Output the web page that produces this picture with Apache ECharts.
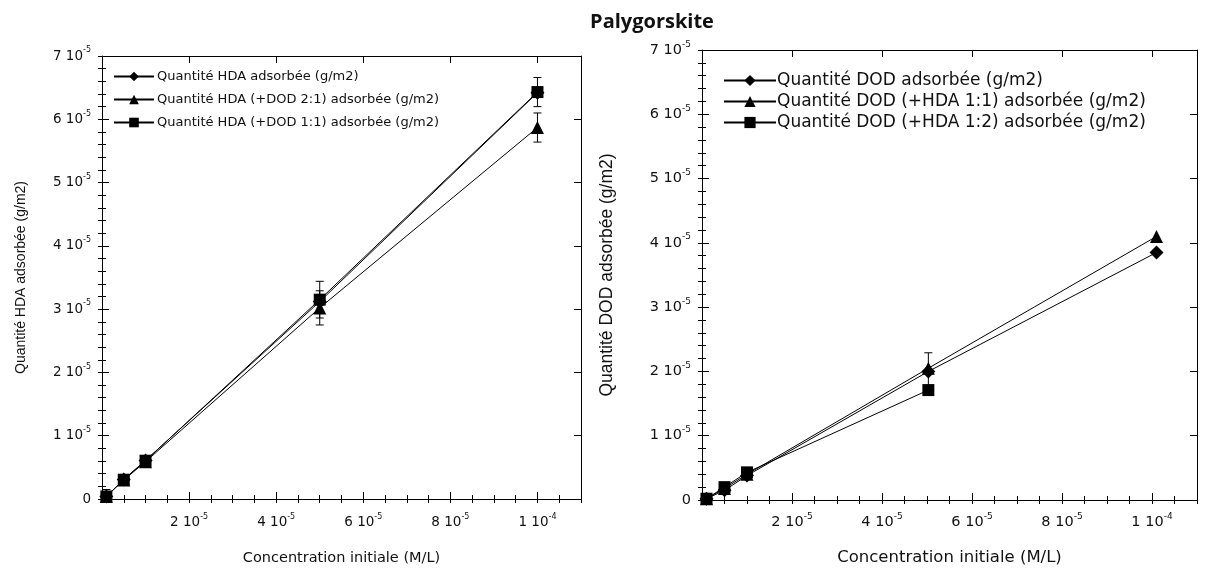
<!DOCTYPE html>
<html><head><meta charset="utf-8">
<script src="https://cdn.jsdelivr.net/npm/echarts@6/dist/echarts.min.js"></script>
<style>html,body{margin:0;padding:0;background:#fff}#c{width:1208px;height:572px}</style>
</head><body><div id="c"></div>
<script>
// ---------- data ----------
const concentrations = [1e-6, 5e-6, 1e-5, 5e-5, 1e-4];

const leftNames = ['Quantité HDA adsorbée (g/m2)', 'Quantité HDA (+DOD 2:1) adsorbée (g/m2)', 'Quantité HDA (+DOD 1:1) adsorbée (g/m2)'];
const hdaAlone   = [4e-7, 3.1e-6, 6.1e-6, 3.12e-5, 6.42e-5];
const hdaDod21   = [4e-7, 3.0e-6, 5.9e-6, 3.02e-5, 5.87e-5];
const hdaDod11   = [4e-7, 3.05e-6, 6.05e-6, 3.15e-5, 6.43e-5];
const hdaDod21Err = [0, 0, 0, 2.7e-6, 2.3e-6];
const hdaDod11Err = [1.1e-6, 0, 0, 2.9e-6, 2.3e-6];

const rightNames = ['Quantité DOD adsorbée (g/m2)', 'Quantité DOD (+HDA 1:1) adsorbée (g/m2)', 'Quantité DOD (+HDA 1:2) adsorbée (g/m2)'];
const dodConcentrations = [1e-6, 5e-6, 1e-5, 5.03e-5, 1.01e-4];
const dodAlone   = [2e-7, 1.5e-6, 3.8e-6, 2.0e-5, 3.85e-5];
const dodHda11   = [2e-7, 1.8e-6, 4.0e-6, 2.05e-5, 4.10e-5];
const dodHda12   = [2e-7, 2.0e-6, 4.3e-6, 1.71e-5, null];
const dodAloneErr = [0, 0, 0, 2.9e-6, 0];

const xTickMantissas = ['', '2', '4', '6', '8', '1'];
const xTickExponents = ['', '-5', '-5', '-5', '-5', '-4'];
const yTickMantissas = ['0', '1', '2', '3', '4', '5', '6', '7'];
const yTickExponent = '-5';

const xTitle = 'Concentration initiale (M/L)';
const leftYTitle = 'Quantité HDA adsorbée (g/m2)';
const rightYTitle = 'Quantité DOD adsorbée (g/m2)';
const chartTitle = 'Palygorskite';

// ---------- helpers ----------
const HFONT = 'DejaVu Sans, sans-serif';
const VFONT = '"Liberation Sans", Arial, sans-serif';
const INK = '#111';
function xFmt(v) {
  if (v > 1.05e-4 || v <= 0) return '';
  const i = Math.round(v / 2e-5);
  return '{m|' + xTickMantissas[i] + ' 10}{e|' + xTickExponents[i] + '}';
}
function yFmt(v) {
  const i = Math.round(v / 1e-5);
  if (i === 0) return '{m|0}';
  return '{m|' + yTickMantissas[i] + ' 10}{e|' + yTickExponent + '}';
}
function rich(fs) {
  return { m: { fontSize: fs, fontFamily: HFONT, color: INK, lineHeight: fs + 6 },
           e: { fontSize: Math.round(fs * 0.62), fontFamily: HFONT, color: INK, verticalAlign: 'top' } };
}
const noSplit = { show: false };
const XMIN = 0, XMAX = 1.1e-4, YMIN = 0, YMAX = 7e-5;

function majorX(g, pos, fs, nameFs, nameGap, margin) {
  const a = { gridIndex: g, type: 'value', min: XMIN, max: XMAX, interval: 2e-5, position: pos,
    axisLine: { show: true, onZero: false, lineStyle: { color: '#000', width: 1 } },
    axisTick: { inside: true, length: 7, lineStyle: { color: '#000' } },
    axisLabel: { show: false }, splitLine: noSplit };
  if (pos === 'bottom') {
    a.axisLabel = { formatter: xFmt, rich: rich(fs), margin: margin };
    a.name = xTitle; a.nameLocation = 'middle'; a.nameGap = nameGap;
    a.nameTextStyle = { fontSize: nameFs, fontFamily: HFONT, color: INK };
  }
  return a;
}
function minorX(g, pos) {
  return { gridIndex: g, type: 'value', min: XMIN, max: XMAX, interval: 5e-6, position: pos,
    axisLine: { show: false }, axisTick: { inside: true, length: 4, lineStyle: { color: '#000' } },
    axisLabel: { show: false }, splitLine: noSplit };
}
function majorY(g, pos, fs, name, nameFs, nameGap) {
  const a = { gridIndex: g, type: 'value', min: YMIN, max: YMAX, interval: 1e-5, position: pos,
    axisLine: { show: true, onZero: false, lineStyle: { color: '#000', width: 1 } },
    axisTick: { inside: true, length: 7, lineStyle: { color: '#000' } },
    axisLabel: { show: false }, splitLine: noSplit };
  if (pos === 'left') {
    a.axisLabel = { formatter: yFmt, rich: rich(fs), margin: 11 };
    a.name = name; a.nameLocation = 'middle'; a.nameGap = nameGap; a.nameRotate = 90;
    a.nameTextStyle = { fontSize: nameFs, fontFamily: VFONT, color: INK };
  }
  return a;
}
function minorY(g, pos) {
  return { gridIndex: g, type: 'value', min: YMIN, max: YMAX, interval: 2e-6, position: pos,
    axisLine: { show: false }, axisTick: { inside: true, length: 4, lineStyle: { color: '#000' } },
    axisLabel: { show: false }, splitLine: noSplit };
}
function lineSeries(name, xs, vals, symbol, size, axisIdx) {
  return { type: 'line', name: name, xAxisIndex: axisIdx, yAxisIndex: axisIdx,
    data: xs.map((c, i) => [c, vals[i]]).filter(d => d[1] !== null),
    symbol: symbol, symbolSize: size, showSymbol: true,
    lineStyle: { color: '#000', width: 1 }, itemStyle: { color: '#000' },
    z: 3, animation: false };
}
function errSeries(xs, vals, errs, axisIdx) {
  return { type: 'custom', xAxisIndex: axisIdx, yAxisIndex: axisIdx, z: 2, animation: false,
    data: xs.map((c, i) => [c, vals[i], errs[i]]).filter(d => d[2] > 0),
    renderItem: function (params, api) {
      const x = api.value(0), y = api.value(1), e = api.value(2);
      const hi = api.coord([x, y + e]), lo = api.coord([x, Math.max(0, y - e)]);
      const w = 4;
      const st = { stroke: '#000', lineWidth: 1 };
      return { type: 'group', children: [
        { type: 'line', shape: { x1: hi[0], y1: hi[1], x2: lo[0], y2: lo[1] }, style: st },
        { type: 'line', shape: { x1: hi[0] - w, y1: hi[1], x2: hi[0] + w, y2: hi[1] }, style: st },
        { type: 'line', shape: { x1: lo[0] - w, y1: lo[1], x2: lo[0] + w, y2: lo[1] }, style: st }
      ] };
    } };
}

const LEFT_RECT  = { left: 102, top: 56, width: 479, height: 443 };
const RIGHT_RECT = { left: 702, top: 50, width: 495, height: 450 };

const chart = echarts.init(document.getElementById('c'), null, { renderer: 'canvas' });
chart.setOption({
  backgroundColor: '#fff',
  animation: false,
  title: { text: chartTitle, left: 647, top: 7, textAlign: 'center',
    textStyle: { fontFamily: 'Open Sans', fontWeight: 'bold', fontSize: 20, color: INK } },
  grid: [
    Object.assign({}, LEFT_RECT), Object.assign({}, RIGHT_RECT),
    Object.assign({}, LEFT_RECT), Object.assign({}, RIGHT_RECT)
  ],
  xAxis: [
    majorX(0, 'bottom', 13.5, 14.5, 52, 14), majorX(0, 'top'),
    majorX(1, 'bottom', 14.5, 16.5, 49, 12), majorX(1, 'top'),
    minorX(2, 'bottom'), minorX(2, 'top'),
    minorX(3, 'bottom'), minorX(3, 'top')
  ],
  yAxis: [
    majorY(0, 'left', 13.5, leftYTitle, 14, 74), majorY(0, 'right'),
    majorY(1, 'left', 14.5, rightYTitle, 17.5, 86), majorY(1, 'right'),
    minorY(2, 'left'), minorY(2, 'right'),
    minorY(3, 'left'), minorY(3, 'right')
  ],
  legend: [
    { data: leftNames, orient: 'vertical', left: 108, top: 65, itemGap: 10, itemWidth: 40, itemHeight: 12,
      textStyle: { fontSize: 13, fontFamily: HFONT, color: INK, padding: [0, 0, 0, -2] }, selectedMode: false },
    { data: rightNames, orient: 'vertical', left: 718, top: 67, itemGap: 4, itemWidth: 52, itemHeight: 14,
      textStyle: { fontSize: 17, fontFamily: HFONT, color: INK, padding: [0, 0, 0, -4] }, selectedMode: false }
  ],
  series: [
    errSeries(concentrations, hdaDod21, hdaDod21Err, 0),
    errSeries(concentrations, hdaDod11, hdaDod11Err, 0),
    lineSeries(leftNames[0], concentrations, hdaAlone, 'diamond', 14, 0),
    lineSeries(leftNames[1], concentrations, hdaDod21, 'triangle', 13, 0),
    lineSeries(leftNames[2], concentrations, hdaDod11, 'rect', 12, 0),
    errSeries(dodConcentrations, dodAlone, dodAloneErr, 2),
    lineSeries(rightNames[0], dodConcentrations, dodAlone, 'diamond', 14, 2),
    lineSeries(rightNames[1], dodConcentrations, dodHda11, 'triangle', 13, 2),
    lineSeries(rightNames[2], dodConcentrations, dodHda12, 'rect', 12, 2)
  ]
});
</script></body></html>
